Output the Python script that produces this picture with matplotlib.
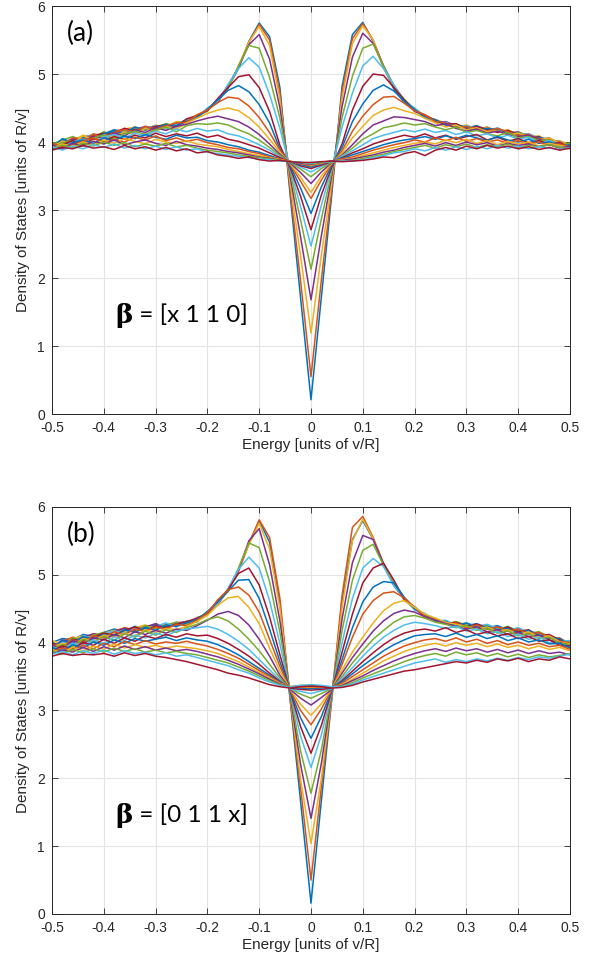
import matplotlib
matplotlib.use("Agg")
import matplotlib.pyplot as plt
import numpy as np

# energy grid, -0.5 .. 0.5 in steps of 0.02
energy = np.linspace(-0.5, 0.5, 51)

# ---- panel (a): beta = [x 1 1 0] ----
a00 = [3.95, 4.02, 4.00, 4.08, 4.10, 4.12, 4.18, 4.15, 4.20, 4.19, 4.24, 4.22, 4.28, 4.31, 4.38, 4.47, 4.60, 4.80, 5.08, 5.48, 5.75, 5.55, 4.80, 3.20, 1.70,
       0.21,
       1.72, 3.22, 4.82, 5.58, 5.76, 5.48, 5.10, 4.78, 4.58, 4.47, 4.37, 4.30, 4.27, 4.23, 4.21, 4.24, 4.18, 4.20, 4.14, 4.12, 4.09, 4.06, 4.03, 3.99, 3.95]
a01 = [3.92, 3.98, 4.05, 4.03, 4.12, 4.09, 4.15, 4.20, 4.16, 4.22, 4.18, 4.25, 4.26, 4.33, 4.36, 4.48, 4.62, 4.82, 5.10, 5.46, 5.73, 5.50, 4.72, 3.28, 1.95,
       0.55,
       1.97, 3.30, 4.74, 5.52, 5.74, 5.50, 5.12, 4.80, 4.60, 4.46, 4.40, 4.32, 4.25, 4.26, 4.20, 4.18, 4.22, 4.16, 4.17, 4.10, 4.12, 4.05, 4.02, 4.00, 3.93]
a02 = [3.98, 3.95, 4.02, 4.10, 4.06, 4.14, 4.12, 4.19, 4.22, 4.17, 4.25, 4.21, 4.30, 4.29, 4.40, 4.45, 4.63, 4.79, 5.12, 5.47, 5.70, 5.42, 4.62, 3.38, 2.32,
       1.19,
       2.34, 3.40, 4.65, 5.45, 5.71, 5.50, 5.08, 4.82, 4.62, 4.49, 4.35, 4.33, 4.28, 4.22, 4.25, 4.19, 4.21, 4.15, 4.18, 4.11, 4.07, 4.09, 4.01, 4.02, 3.96]
a03 = [3.90, 4.00, 3.97, 4.05, 4.09, 4.06, 4.16, 4.13, 4.18, 4.23, 4.20, 4.26, 4.24, 4.32, 4.37, 4.49, 4.58, 4.83, 5.10, 5.43, 5.58, 5.22, 4.50, 3.48, 2.60,
       1.68,
       2.62, 3.50, 4.52, 5.25, 5.60, 5.45, 5.12, 4.83, 4.61, 4.45, 4.39, 4.29, 4.30, 4.24, 4.19, 4.23, 4.17, 4.19, 4.13, 4.15, 4.08, 4.04, 4.06, 3.98, 3.94]
a04 = [3.97, 4.03, 4.08, 4.02, 4.07, 4.15, 4.10, 4.14, 4.21, 4.18, 4.22, 4.27, 4.22, 4.30, 4.38, 4.46, 4.62, 4.80, 5.12, 5.42, 5.38, 4.95, 4.35, 3.55, 2.85,
       2.13,
       2.87, 3.56, 4.36, 4.97, 5.38, 5.44, 5.12, 4.81, 4.63, 4.48, 4.36, 4.31, 4.26, 4.25, 4.22, 4.18, 4.20, 4.16, 4.12, 4.14, 4.10, 4.03, 4.05, 3.97, 3.98]
a05 = [3.88, 3.96, 4.02, 4.06, 4.11, 4.08, 4.12, 4.17, 4.14, 4.20, 4.24, 4.19, 4.26, 4.33, 4.35, 4.50, 4.60, 4.85, 5.08, 5.24, 5.10, 4.70, 4.20, 3.60, 3.05,
       2.47,
       3.07, 3.61, 4.22, 4.72, 5.12, 5.26, 5.08, 4.84, 4.60, 4.50, 4.38, 4.28, 4.29, 4.22, 4.24, 4.20, 4.15, 4.21, 4.13, 4.10, 4.12, 4.06, 4.02, 4.01, 3.92]
a06 = [3.94, 3.99, 4.04, 4.01, 4.09, 4.13, 4.11, 4.20, 4.17, 4.19, 4.23, 4.25, 4.23, 4.34, 4.39, 4.46, 4.64, 4.80, 4.96, 4.99, 4.80, 4.45, 3.95, 3.62, 3.20,
       2.71,
       3.22, 3.63, 3.97, 4.47, 4.82, 5.00, 4.98, 4.80, 4.62, 4.46, 4.39, 4.32, 4.26, 4.27, 4.20, 4.22, 4.19, 4.14, 4.17, 4.11, 4.07, 4.08, 4.00, 3.97, 3.95]
a07 = [3.91, 4.05, 3.99, 4.07, 4.04, 4.12, 4.16, 4.13, 4.22, 4.18, 4.20, 4.26, 4.24, 4.30, 4.36, 4.48, 4.62, 4.76, 4.83, 4.74, 4.55, 4.28, 3.90, 3.65, 3.32,
       2.95,
       3.34, 3.66, 3.92, 4.30, 4.56, 4.76, 4.84, 4.75, 4.60, 4.48, 4.36, 4.33, 4.25, 4.24, 4.22, 4.17, 4.20, 4.18, 4.12, 4.13, 4.06, 4.07, 4.03, 3.96, 3.97]
a08 = [3.96, 3.97, 4.06, 4.04, 4.11, 4.06, 4.14, 4.18, 4.15, 4.23, 4.19, 4.24, 4.28, 4.29, 4.40, 4.47, 4.58, 4.66, 4.64, 4.53, 4.36, 4.14, 3.88, 3.67, 3.42,
       3.17,
       3.44, 3.68, 3.87, 4.16, 4.38, 4.55, 4.66, 4.67, 4.57, 4.46, 4.40, 4.30, 4.28, 4.21, 4.23, 4.19, 4.16, 4.20, 4.15, 4.10, 4.11, 4.05, 4.04, 4.00, 3.94]
a09 = [3.93, 4.01, 3.98, 4.09, 4.03, 4.10, 4.07, 4.15, 4.12, 4.20, 4.16, 4.22, 4.19, 4.28, 4.35, 4.42, 4.47, 4.50, 4.46, 4.36, 4.22, 4.04, 3.85, 3.68, 3.48,
       3.26,
       3.50, 3.69, 3.84, 4.06, 4.23, 4.39, 4.47, 4.51, 4.46, 4.42, 4.35, 4.28, 4.22, 4.25, 4.18, 4.21, 4.15, 4.17, 4.10, 4.13, 4.07, 4.03, 4.06, 3.98, 3.96]
a10 = [3.97, 3.94, 4.04, 4.00, 4.08, 4.05, 4.13, 4.09, 4.18, 4.14, 4.21, 4.17, 4.23, 4.26, 4.31, 4.35, 4.38, 4.34, 4.30, 4.22, 4.11, 3.97, 3.82, 3.69, 3.55,
       3.39,
       3.56, 3.70, 3.81, 3.96, 4.12, 4.25, 4.31, 4.37, 4.36, 4.33, 4.30, 4.24, 4.27, 4.20, 4.16, 4.19, 4.13, 4.16, 4.11, 4.08, 4.10, 4.04, 4.01, 3.97, 3.93]
a11 = [3.90, 3.99, 4.02, 3.97, 4.06, 4.10, 4.04, 4.12, 4.16, 4.11, 4.18, 4.22, 4.15, 4.24, 4.27, 4.26, 4.28, 4.25, 4.18, 4.12, 4.03, 3.92, 3.80, 3.70, 3.60,
       3.49,
       3.61, 3.70, 3.80, 3.91, 4.04, 4.12, 4.21, 4.24, 4.28, 4.25, 4.27, 4.22, 4.18, 4.22, 4.14, 4.17, 4.12, 4.09, 4.14, 4.06, 4.08, 4.02, 4.03, 3.95, 3.98]
a12 = [3.95, 3.92, 4.00, 4.04, 3.99, 4.07, 4.11, 4.06, 4.13, 4.09, 4.16, 4.12, 4.19, 4.15, 4.20, 4.16, 4.18, 4.12, 4.09, 4.03, 3.96, 3.88, 3.78, 3.71, 3.63,
       3.56,
       3.64, 3.71, 3.79, 3.87, 3.96, 4.05, 4.10, 4.14, 4.18, 4.15, 4.19, 4.14, 4.17, 4.11, 4.15, 4.09, 4.12, 4.06, 4.10, 4.04, 4.07, 3.99, 4.02, 3.96, 3.91]
a13 = [3.89, 3.96, 4.02, 3.95, 4.05, 4.01, 4.08, 4.04, 4.10, 4.06, 4.13, 4.08, 4.12, 4.09, 4.13, 4.07, 4.10, 4.04, 4.01, 3.96, 3.91, 3.84, 3.77, 3.71, 3.65,
       3.61,
       3.66, 3.71, 3.77, 3.84, 3.90, 3.97, 4.02, 4.06, 4.10, 4.07, 4.12, 4.06, 4.10, 4.04, 4.08, 4.11, 4.03, 4.07, 4.01, 4.05, 3.99, 4.02, 3.97, 3.99, 3.92]
a14 = [3.94, 3.91, 3.99, 4.03, 3.97, 4.06, 4.02, 4.09, 4.05, 4.11, 4.07, 4.04, 4.10, 4.06, 4.07, 4.02, 4.00, 3.96, 3.93, 3.88, 3.85, 3.80, 3.75, 3.71, 3.67,
       3.63,
       3.68, 3.72, 3.76, 3.81, 3.86, 3.91, 3.96, 4.00, 4.03, 4.05, 4.08, 4.04, 4.09, 4.05, 4.10, 4.06, 4.02, 4.08, 4.03, 4.00, 4.04, 3.98, 4.00, 3.94, 3.96]
a15 = [3.98, 3.93, 3.96, 4.01, 4.06, 3.99, 4.04, 4.00, 4.07, 4.03, 4.09, 4.02, 4.06, 4.01, 4.04, 3.99, 3.96, 3.92, 3.90, 3.86, 3.83, 3.78, 3.75, 3.72, 3.68,
       3.65,
       3.69, 3.72, 3.75, 3.78, 3.83, 3.88, 3.92, 3.96, 3.99, 4.03, 4.00, 4.06, 4.02, 4.07, 4.01, 4.05, 4.00, 4.03, 3.98, 4.02, 3.97, 4.00, 3.95, 3.97, 3.93]
a16 = [3.92, 3.97, 3.94, 4.00, 3.96, 4.03, 3.98, 4.05, 4.01, 3.97, 4.04, 4.00, 3.98, 4.02, 3.97, 3.95, 3.93, 3.89, 3.86, 3.83, 3.80, 3.77, 3.74, 3.71, 3.69,
       3.66,
       3.69, 3.72, 3.74, 3.76, 3.80, 3.84, 3.88, 3.92, 3.95, 3.98, 4.00, 3.97, 4.03, 3.99, 4.04, 3.98, 4.02, 3.96, 4.01, 3.97, 4.00, 3.94, 3.98, 3.95, 3.92]
a17 = [3.96, 3.90, 3.98, 3.94, 4.01, 3.97, 4.03, 3.96, 4.00, 4.03, 3.98, 3.95, 4.01, 3.96, 3.94, 3.91, 3.89, 3.86, 3.84, 3.81, 3.78, 3.76, 3.73, 3.71, 3.69,
       3.67,
       3.70, 3.72, 3.73, 3.75, 3.78, 3.81, 3.85, 3.88, 3.92, 3.95, 3.98, 3.94, 3.99, 3.95, 4.00, 3.96, 3.99, 3.94, 3.98, 3.95, 3.97, 3.93, 3.96, 3.91, 3.94]
a18 = [3.91, 3.95, 3.92, 3.98, 3.94, 4.00, 3.95, 3.99, 3.93, 3.97, 3.94, 3.98, 3.93, 3.95, 3.91, 3.88, 3.86, 3.84, 3.81, 3.79, 3.77, 3.75, 3.73, 3.71, 3.70,
       3.68,
       3.70, 3.71, 3.72, 3.73, 3.76, 3.79, 3.82, 3.86, 3.89, 3.92, 3.95, 3.91, 3.96, 3.93, 3.97, 3.92, 3.96, 3.93, 3.97, 3.92, 3.95, 3.93, 3.96, 3.92, 3.90]
a19 = [3.93, 3.88, 3.94, 3.90, 3.96, 3.92, 3.97, 3.91, 3.95, 3.90, 3.94, 3.89, 3.93, 3.88, 3.90, 3.85, 3.83, 3.81, 3.79, 3.77, 3.75, 3.74, 3.72, 3.71, 3.70,
       3.69,
       3.71, 3.71, 3.72, 3.72, 3.74, 3.77, 3.80, 3.84, 3.86, 3.90, 3.87, 3.92, 3.88, 3.93, 3.89, 3.94, 3.90, 3.95, 3.91, 3.94, 3.90, 3.93, 3.91, 3.89, 3.92]
a20 = [3.88, 3.92, 3.90, 3.95, 3.91, 3.93, 3.89, 3.95, 3.90, 3.93, 3.88, 3.92, 3.87, 3.90, 3.84, 3.86, 3.81, 3.79, 3.76, 3.78, 3.74, 3.72, 3.73, 3.71, 3.70,
       3.70,
       3.71, 3.72, 3.71, 3.72, 3.73, 3.75, 3.78, 3.77, 3.83, 3.86, 3.80, 3.88, 3.92, 3.88, 3.94, 3.90, 3.95, 3.91, 3.94, 3.90, 3.93, 3.89, 3.92, 3.88, 3.91]

# ---- panel (b): beta = [0 1 1 x] ----
b00 = [4.00, 4.06, 4.04, 4.12, 4.09, 4.15, 4.20, 4.17, 4.24, 4.21, 4.27, 4.24, 4.30, 4.28, 4.35, 4.43, 4.58, 4.77, 5.06, 5.46, 5.80, 5.48, 4.58, 3.14, 1.65,
       0.16,
       1.67, 3.16, 4.62, 5.52, 5.80, 5.52, 5.15, 4.86, 4.66, 4.50, 4.41, 4.33, 4.30, 4.27, 4.25, 4.28, 4.22, 4.25, 4.19, 4.21, 4.15, 4.12, 4.08, 4.05, 3.99]
b01 = [3.95, 4.02, 4.08, 4.05, 4.13, 4.11, 4.17, 4.22, 4.19, 4.25, 4.22, 4.28, 4.25, 4.31, 4.33, 4.45, 4.57, 4.78, 5.05, 5.45, 5.81, 5.55, 4.65, 3.16, 1.85,
       0.50,
       1.87, 3.18, 4.70, 5.70, 5.86, 5.55, 5.17, 4.84, 4.64, 4.52, 4.39, 4.35, 4.28, 4.30, 4.24, 4.26, 4.21, 4.23, 4.18, 4.20, 4.14, 4.13, 4.06, 4.07, 3.98]
b02 = [4.03, 3.98, 4.06, 4.10, 4.07, 4.14, 4.18, 4.16, 4.22, 4.26, 4.21, 4.27, 4.29, 4.27, 4.36, 4.41, 4.60, 4.75, 5.08, 5.44, 5.76, 5.38, 4.50, 3.20, 1.98,
       1.04,
       2.00, 3.21, 4.52, 5.50, 5.82, 5.53, 5.14, 4.87, 4.63, 4.49, 4.42, 4.31, 4.32, 4.26, 4.28, 4.23, 4.26, 4.20, 4.22, 4.16, 4.18, 4.11, 4.09, 4.03, 4.02]
b03 = [3.92, 4.04, 4.01, 4.08, 4.13, 4.10, 4.16, 4.21, 4.18, 4.23, 4.28, 4.22, 4.29, 4.31, 4.34, 4.44, 4.56, 4.79, 5.07, 5.50, 5.68, 5.15, 4.32, 3.22, 2.20,
       1.41,
       2.22, 3.23, 4.35, 5.18, 5.58, 5.52, 5.16, 4.84, 4.65, 4.51, 4.38, 4.34, 4.29, 4.28, 4.23, 4.27, 4.20, 4.22, 4.17, 4.19, 4.13, 4.15, 4.07, 4.05, 3.96]
b04 = [3.98, 3.94, 4.07, 4.03, 4.11, 4.15, 4.12, 4.19, 4.16, 4.25, 4.20, 4.26, 4.30, 4.25, 4.37, 4.42, 4.61, 4.77, 5.10, 5.47, 5.40, 4.90, 4.15, 3.25, 2.40,
       1.78,
       2.42, 3.26, 4.18, 4.92, 5.36, 5.45, 5.14, 4.88, 4.62, 4.53, 4.40, 4.36, 4.27, 4.31, 4.26, 4.22, 4.25, 4.19, 4.24, 4.17, 4.14, 4.16, 4.09, 4.04, 4.01]
b05 = [3.94, 4.01, 3.97, 4.10, 4.06, 4.13, 4.17, 4.14, 4.21, 4.19, 4.24, 4.29, 4.23, 4.32, 4.30, 4.45, 4.57, 4.80, 5.08, 5.26, 5.10, 4.62, 3.98, 3.27, 2.62,
       2.16,
       2.64, 3.28, 4.00, 4.65, 5.10, 5.24, 5.12, 4.84, 4.66, 4.48, 4.43, 4.32, 4.33, 4.26, 4.29, 4.24, 4.27, 4.21, 4.18, 4.22, 4.15, 4.12, 4.10, 4.02, 4.03]
b06 = [3.99, 3.93, 4.05, 4.02, 4.08, 4.14, 4.11, 4.18, 4.23, 4.17, 4.25, 4.22, 4.27, 4.31, 4.36, 4.43, 4.62, 4.78, 5.02, 5.10, 4.85, 4.38, 3.82, 3.28, 2.76,
       2.37,
       2.78, 3.29, 3.86, 4.42, 4.88, 5.10, 5.17, 4.92, 4.64, 4.52, 4.37, 4.35, 4.28, 4.30, 4.24, 4.27, 4.22, 4.18, 4.23, 4.16, 4.19, 4.10, 4.12, 4.04, 3.97]
b07 = [3.91, 4.03, 3.99, 4.09, 4.05, 4.12, 4.09, 4.19, 4.15, 4.22, 4.18, 4.26, 4.24, 4.29, 4.34, 4.46, 4.60, 4.76, 4.92, 4.93, 4.65, 4.20, 3.72, 3.29, 2.89,
       2.59,
       2.91, 3.30, 3.75, 4.22, 4.60, 4.82, 4.90, 4.88, 4.67, 4.50, 4.41, 4.32, 4.31, 4.25, 4.29, 4.22, 4.24, 4.19, 4.21, 4.14, 4.18, 4.11, 4.07, 4.06, 3.95]
b08 = [3.97, 3.95, 4.04, 4.00, 4.10, 4.07, 4.16, 4.12, 4.20, 4.17, 4.23, 4.20, 4.27, 4.25, 4.33, 4.44, 4.63, 4.78, 4.82, 4.70, 4.45, 4.05, 3.65, 3.30, 3.00,
       2.79,
       3.02, 3.31, 3.68, 4.08, 4.42, 4.62, 4.73, 4.75, 4.66, 4.52, 4.39, 4.34, 4.27, 4.29, 4.22, 4.26, 4.20, 4.23, 4.17, 4.20, 4.13, 4.15, 4.08, 4.02, 4.00]
b09 = [3.93, 3.99, 3.96, 4.06, 4.02, 4.11, 4.08, 4.14, 4.10, 4.19, 4.15, 4.21, 4.19, 4.24, 4.31, 4.40, 4.55, 4.66, 4.68, 4.52, 4.28, 3.92, 3.58, 3.31, 3.09,
       2.93,
       3.10, 3.32, 3.60, 3.86, 4.08, 4.29, 4.47, 4.58, 4.62, 4.52, 4.42, 4.36, 4.30, 4.27, 4.24, 4.20, 4.23, 4.17, 4.19, 4.12, 4.16, 4.08, 4.10, 4.01, 3.98]
b10 = [3.96, 3.92, 4.03, 3.98, 4.07, 4.04, 4.12, 4.07, 4.16, 4.12, 4.18, 4.14, 4.20, 4.18, 4.25, 4.33, 4.42, 4.46, 4.40, 4.26, 4.05, 3.80, 3.52, 3.31, 3.18,
       3.08,
       3.19, 3.31, 3.55, 3.78, 3.98, 4.17, 4.32, 4.43, 4.48, 4.45, 4.38, 4.33, 4.28, 4.24, 4.20, 4.23, 4.16, 4.19, 4.12, 4.15, 4.09, 4.11, 4.04, 4.00, 3.96]
b11 = [3.90, 3.97, 3.94, 4.05, 4.00, 4.09, 4.03, 4.13, 4.08, 4.17, 4.11, 4.19, 4.15, 4.22, 4.27, 4.34, 4.38, 4.32, 4.20, 4.05, 3.88, 3.68, 3.48, 3.32, 3.24,
       3.18,
       3.25, 3.32, 3.50, 3.70, 3.88, 4.05, 4.18, 4.30, 4.38, 4.40, 4.36, 4.30, 4.27, 4.22, 4.25, 4.18, 4.21, 4.14, 4.17, 4.10, 4.13, 4.06, 4.08, 3.99, 3.97]
b12 = [3.94, 3.89, 3.99, 3.95, 4.04, 3.99, 4.08, 4.03, 4.11, 4.07, 4.14, 4.10, 4.17, 4.20, 4.22, 4.24, 4.20, 4.12, 4.02, 3.90, 3.75, 3.60, 3.45, 3.32, 3.28,
       3.25,
       3.29, 3.32, 3.47, 3.63, 3.80, 3.95, 4.08, 4.18, 4.26, 4.30, 4.28, 4.25, 4.21, 4.24, 4.17, 4.20, 4.13, 4.16, 4.09, 4.12, 4.05, 4.08, 4.00, 3.98, 3.93]
b13 = [3.88, 3.95, 3.91, 4.00, 3.96, 4.05, 3.99, 4.07, 4.02, 4.10, 4.06, 4.12, 4.08, 4.13, 4.10, 4.11, 4.06, 3.99, 3.90, 3.80, 3.68, 3.55, 3.43, 3.33, 3.31,
       3.30,
       3.31, 3.33, 3.44, 3.58, 3.72, 3.85, 3.97, 4.07, 4.14, 4.18, 4.20, 4.17, 4.22, 4.15, 4.19, 4.12, 4.16, 4.10, 4.13, 4.06, 4.09, 4.02, 4.04, 3.96, 3.95]
b14 = [3.93, 3.87, 3.97, 3.92, 4.01, 3.96, 4.04, 3.99, 4.06, 4.02, 4.05, 4.08, 4.03, 4.07, 4.04, 4.02, 3.97, 3.90, 3.82, 3.72, 3.62, 3.52, 3.42, 3.34, 3.33,
       3.32,
       3.33, 3.34, 3.42, 3.54, 3.66, 3.77, 3.88, 3.97, 4.04, 4.10, 4.12, 4.13, 4.09, 4.14, 4.08, 4.12, 4.06, 4.10, 4.03, 4.07, 4.01, 4.04, 3.98, 3.99, 3.92]
b15 = [3.86, 3.92, 3.89, 3.96, 3.91, 3.99, 3.94, 4.02, 3.97, 4.03, 3.98, 4.01, 3.99, 4.02, 3.98, 3.95, 3.90, 3.84, 3.77, 3.68, 3.59, 3.50, 3.41, 3.35, 3.34,
       3.34,
       3.34, 3.34, 3.40, 3.50, 3.60, 3.70, 3.80, 3.88, 3.95, 4.00, 4.04, 4.06, 4.02, 4.07, 4.01, 4.05, 3.99, 4.03, 3.97, 4.01, 3.96, 3.99, 3.94, 3.96, 3.90]
b16 = [3.90, 3.85, 3.93, 3.88, 3.95, 3.90, 3.98, 3.92, 3.97, 3.93, 3.96, 3.92, 3.95, 3.93, 3.91, 3.88, 3.84, 3.78, 3.72, 3.64, 3.56, 3.48, 3.40, 3.35, 3.35,
       3.35,
       3.35, 3.34, 3.38, 3.46, 3.55, 3.64, 3.73, 3.80, 3.87, 3.92, 3.96, 3.99, 3.95, 4.00, 3.96, 3.99, 3.94, 3.98, 3.93, 3.96, 3.91, 3.95, 3.90, 3.93, 3.88]
b17 = [3.84, 3.89, 3.86, 3.93, 3.87, 3.94, 3.89, 3.95, 3.90, 3.94, 3.89, 3.92, 3.88, 3.90, 3.87, 3.83, 3.79, 3.74, 3.68, 3.61, 3.54, 3.46, 3.39, 3.35, 3.36,
       3.36,
       3.36, 3.34, 3.37, 3.44, 3.51, 3.59, 3.66, 3.73, 3.79, 3.84, 3.88, 3.91, 3.87, 3.92, 3.88, 3.91, 3.86, 3.90, 3.85, 3.89, 3.84, 3.88, 3.84, 3.86, 3.82]
b18 = [3.88, 3.83, 3.90, 3.85, 3.91, 3.86, 3.92, 3.87, 3.91, 3.86, 3.89, 3.85, 3.87, 3.84, 3.82, 3.78, 3.74, 3.70, 3.64, 3.58, 3.51, 3.44, 3.38, 3.35, 3.37,
       3.37,
       3.36, 3.34, 3.36, 3.41, 3.48, 3.54, 3.60, 3.66, 3.72, 3.77, 3.81, 3.84, 3.80, 3.86, 3.82, 3.85, 3.80, 3.84, 3.79, 3.83, 3.78, 3.82, 3.79, 3.81, 3.84]
b19 = [3.83, 3.87, 3.82, 3.88, 3.84, 3.89, 3.83, 3.88, 3.84, 3.86, 3.82, 3.85, 3.80, 3.82, 3.78, 3.74, 3.70, 3.66, 3.60, 3.55, 3.48, 3.42, 3.37, 3.34, 3.37,
       3.38,
       3.37, 3.35, 3.35, 3.39, 3.45, 3.50, 3.55, 3.60, 3.65, 3.70, 3.73, 3.76, 3.71, 3.75, 3.72, 3.76, 3.73, 3.77, 3.74, 3.78, 3.75, 3.79, 3.77, 3.80, 3.83]
b20 = [3.80, 3.84, 3.81, 3.83, 3.82, 3.84, 3.80, 3.85, 3.81, 3.84, 3.80, 3.78, 3.75, 3.72, 3.68, 3.64, 3.60, 3.55, 3.52, 3.48, 3.43, 3.38, 3.35, 3.33, 3.35,
       3.36,
       3.35, 3.33, 3.34, 3.37, 3.42, 3.46, 3.50, 3.54, 3.58, 3.60, 3.63, 3.66, 3.69, 3.72, 3.70, 3.74, 3.71, 3.76, 3.73, 3.77, 3.72, 3.76, 3.74, 3.79, 3.76]

curves_a = [a00, a01, a02, a03, a04, a05, a06, a07, a08, a09, a10,
            a11, a12, a13, a14, a15, a16, a17, a18, a19, a20]
curves_b = [b00, b01, b02, b03, b04, b05, b06, b07, b08, b09, b10,
            b11, b12, b13, b14, b15, b16, b17, b18, b19, b20]

x_ticks = [-0.5, -0.4, -0.3, -0.2, -0.1, 0, 0.1, 0.2, 0.3, 0.4, 0.5]
x_tick_labels = ["-0.5", "-0.4", "-0.3", "-0.2", "-0.1", "0",
                 "0.1", "0.2", "0.3", "0.4", "0.5"]
y_ticks = [0, 1, 2, 3, 4, 5, 6]

panel_tags = ["(a)", "(b)"]
beta_texts = [" = [x 1 1 0]", " = [0 1 1 x]"]

# MATLAB default line colour order
matlab_colors = ["#0072BD", "#D95319", "#EDB120", "#7E2F8E",
                 "#77AC30", "#4DBEEE", "#A2142F"]

AX_COLOR = "#262626"


def draw_panel(ax, curves, tag, beta_text):
    for k, dos in enumerate(curves):
        assert len(dos) == len(energy), f"{tag} curve {k}: {len(dos)} points"
        ax.plot(energy, dos, color=matlab_colors[k % 7], lw=1.1)

    ax.set_xlim(-0.5, 0.5)
    ax.set_ylim(0, 6)
    ax.set_xticks(x_ticks)
    ax.set_xticklabels(x_tick_labels)
    ax.set_yticks(y_ticks)
    ax.grid(True, color="#e3e3e3", lw=0.8)
    ax.set_axisbelow(True)
    ax.tick_params(direction="in", top=True, right=True, length=4,
                   width=0.6, labelsize=10, colors=AX_COLOR, pad=5)
    for spine in ax.spines.values():
        spine.set_color(AX_COLOR)
        spine.set_linewidth(0.7)

    ax.set_xlabel("Energy [units of v/R]", fontsize=11, color=AX_COLOR,
                  labelpad=2)
    ax.set_ylabel("Density of States [units of R/v]", fontsize=11,
                  color=AX_COLOR, labelpad=5)

    ax.text(-0.472, 5.6, tag, fontsize=19, family="Lato", va="center",
            ha="left", color="black")
    ax.text(-0.377, 1.45, "β", fontsize=19, family="DejaVu Serif",
            fontweight="bold", va="center", ha="left", color="black")
    ax.text(-0.343, 1.45, beta_text, fontsize=17.5, family="Lato",
            va="center", ha="left", color="black")


plt.rcParams["font.family"] = ["Liberation Sans", "DejaVu Sans"]

fig = plt.figure(figsize=(6.04, 9.68), dpi=100)
ax_a = fig.add_axes([0.0861, 0.5723, 0.8576, 0.4215])
ax_b = fig.add_axes([0.0861, 0.0558, 0.8576, 0.4205])

draw_panel(ax_a, curves_a, panel_tags[0], beta_texts[0])
draw_panel(ax_b, curves_b, panel_tags[1], beta_texts[1])

fig.savefig("out.png", dpi=100)
